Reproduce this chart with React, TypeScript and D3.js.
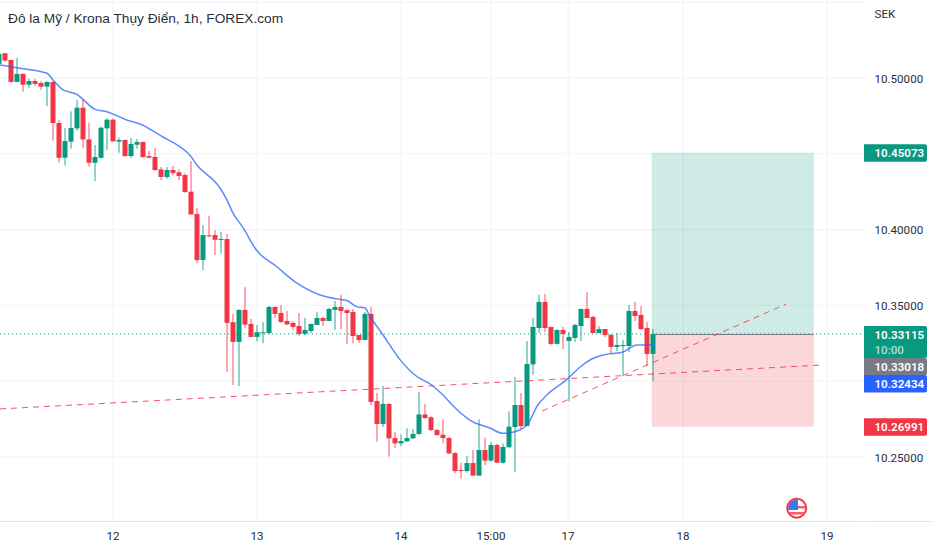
import * as d3 from 'd3';

const width = 932;
const height = 550;
const plotRight = 864;
const plotBottom = 521;

// nến theo thứ tự thời gian (khung 1h)
const opens = [
  10.5093, 10.5163, 10.5119, 10.4974, 10.5027, 10.4956, 10.498, 10.4967, 10.4943, 10.4974,
  10.4703, 10.4474, 10.458, 10.4668, 10.4804, 10.4595, 10.4441, 10.4474, 10.4668, 10.4725,
  10.458, 10.4591, 10.4485, 10.456, 10.4578, 10.4485, 10.4479, 10.4397, 10.4347, 10.4393,
  10.4378, 10.436, 10.425, 10.4103, 10.3799, 10.3962, 10.3964, 10.3933, 10.3938, 10.3389,
  10.3259, 10.347, 10.3378, 10.3292, 10.3318, 10.3318, 10.349, 10.345, 10.3397, 10.3384,
  10.3364, 10.3312, 10.3331, 10.3371, 10.3417, 10.3397, 10.347, 10.349, 10.347, 10.3457,
  10.3305, 10.3272, 10.3444, 10.2869, 10.2718, 10.285, 10.2625, 10.259, 10.2603, 10.2623,
  10.2652, 10.2781, 10.2762, 10.2678, 10.2647, 10.2625, 10.2526, 10.2414, 10.2407, 10.246,
  10.2377, 10.2546, 10.2476, 10.2579, 10.2462, 10.2564, 10.2698, 10.2843, 10.2704, 10.3111,
  10.3351, 10.3523, 10.3358, 10.3246, 10.3338, 10.3265, 10.3285, 10.3364, 10.3477, 10.3424,
  10.3318, 10.3344, 10.3305, 10.3226, 10.3232, 10.3232, 10.3463, 10.3437, 10.3351, 10.318,
];
const highs = [
  10.5163, 10.5165, 10.5121, 10.5132, 10.5031, 10.4994, 10.4994, 10.498, 10.4978, 10.4978,
  10.4725, 10.467, 10.478, 10.4855, 10.4862, 10.4705, 10.4558, 10.4679, 10.4734, 10.4732,
  10.4606, 10.4595, 10.4606, 10.4598, 10.458, 10.4518, 10.4538, 10.4413, 10.4413, 10.4419,
  10.4397, 10.4371, 10.4452, 10.4144, 10.403, 10.4092, 10.3997, 10.3984, 10.3971, 10.3444,
  10.3474, 10.362, 10.3411, 10.3371, 10.3391, 10.3496, 10.3492, 10.3503, 10.3463, 10.3397,
  10.345, 10.3417, 10.3378, 10.3457, 10.3424, 10.3483, 10.3529, 10.3571, 10.347, 10.3477,
  10.3305, 10.3457, 10.349, 10.2922, 10.2968, 10.2854, 10.2667, 10.2649, 10.2689, 10.2685,
  10.2929, 10.285, 10.2768, 10.2685, 10.2748, 10.2634, 10.2533, 10.2462, 10.2506, 10.2546,
  10.2748, 10.2627, 10.2599, 10.2588, 10.259, 10.2801, 10.3028, 10.2922, 10.3265, 10.3417,
  10.3571, 10.3576, 10.3358, 10.3342, 10.3358, 10.3325, 10.3378, 10.3477, 10.3589, 10.343,
  10.3364, 10.3344, 10.3312, 10.3318, 10.3272, 10.3503, 10.3523, 10.3496, 10.3391, 10.3345,
];
const lows = [
  10.5088, 10.5108, 10.4969, 10.4974, 10.491, 10.4936, 10.495, 10.4923, 10.4815, 10.4587,
  10.4441, 10.4422, 10.4534, 10.4653, 10.454, 10.4415, 10.432, 10.4468, 10.4525, 10.458,
  10.4507, 10.4481, 10.4474, 10.4534, 10.4474, 10.4472, 10.4389, 10.4327, 10.4334, 10.436,
  10.4327, 10.4243, 10.4098, 10.3779, 10.3731, 10.3951, 10.3832, 10.3843, 10.3062, 10.2975,
  10.2968, 10.3353, 10.329, 10.3263, 10.325, 10.3309, 10.3417, 10.3384, 10.3371, 10.3338,
  10.3298, 10.3305, 10.3318, 10.3371, 10.3364, 10.3397, 10.3338, 10.3342, 10.3246, 10.325,
  10.3252, 10.3272, 10.2843, 10.2601, 10.2698, 10.2502, 10.2557, 10.257, 10.2601, 10.2619,
  10.2645, 10.2751, 10.2671, 10.2638, 10.259, 10.252, 10.2394, 10.2357, 10.2396, 10.2377,
  10.2377, 10.2447, 10.2469, 10.246, 10.2456, 10.2564, 10.2403, 10.2685, 10.2704, 10.3043,
  10.3318, 10.3325, 10.3241, 10.3241, 10.3213, 10.2867, 10.3259, 10.3265, 10.3417, 10.3318,
  10.3318, 10.3292, 10.318, 10.3199, 10.3041, 10.3193, 10.3397, 10.3338, 10.31, 10.3001,
];
const closes = [
  10.5159, 10.5115, 10.4974, 10.5027, 10.4956, 10.498, 10.4961, 10.4943, 10.4974, 10.4703,
  10.4474, 10.4584, 10.467, 10.4804, 10.4595, 10.4441, 10.4479, 10.4672, 10.4725, 10.4582,
  10.4591, 10.4485, 10.4565, 10.4578, 10.4479, 10.4474, 10.4393, 10.4347, 10.4393, 10.4373,
  10.4353, 10.4248, 10.41, 10.3799, 10.3964, 10.3955, 10.3933, 10.3938, 10.3385, 10.3259,
  10.347, 10.3373, 10.3292, 10.3323, 10.3323, 10.349, 10.3444, 10.3391, 10.3375, 10.3358,
  10.3312, 10.3338, 10.3378, 10.3417, 10.3397, 10.3477, 10.349, 10.3463, 10.345, 10.3298,
  10.3272, 10.3444, 10.2863, 10.2718, 10.285, 10.2623, 10.259, 10.2605, 10.2625, 10.2652,
  10.2781, 10.2757, 10.2678, 10.2645, 10.2625, 10.2524, 10.2407, 10.241, 10.246, 10.2377,
  10.2546, 10.2476, 10.2579, 10.2462, 10.2566, 10.27, 10.2843, 10.2704, 10.3114, 10.3358,
  10.3523, 10.3351, 10.3246, 10.3338, 10.3312, 10.3292, 10.3371, 10.3477, 10.3417, 10.3318,
  10.3344, 10.3305, 10.3226, 10.3239, 10.3239, 10.3463, 10.343, 10.3344, 10.318, 10.3312,
];

// đường trung bình động
const maIndex = [
  0.2, 3.5, 8, 9, 10.7, 13, 14, 16, 18, 21.3, 23.5, 27.4, 30, 31.8, 33, 36.8, 38, 39, 40.7, 42.9,
  46.3, 49.6, 53.5, 56.3, 58, 59.6, 61, 61.8, 64, 66.8, 69.3, 72.1, 74, 75.7, 78.6, 81.8, 84, 86.8,
  88.2, 89.8, 91.3, 94.8, 96.8, 98.5, 100.7, 104, 106.3, 109,
];
const maValue = [
  10.5086, 10.5064, 10.5031, 10.4987, 10.4921, 10.4892, 10.4859, 10.4793, 10.4778, 10.4723, 10.4697,
  10.4609, 10.4551, 10.4492, 10.4426, 10.4276, 10.4195, 10.4109, 10.4011, 10.3865, 10.3755, 10.3648,
  10.3569, 10.3543, 10.3532, 10.3492, 10.3483, 10.343, 10.3305, 10.3144, 10.3041, 10.2975, 10.2909,
  10.2836, 10.274, 10.2691, 10.2656, 10.2678, 10.2722, 10.2843, 10.2909, 10.3017, 10.3092, 10.314,
  10.3173, 10.3193, 10.3239, 10.3239,
];

// hai đường xu hướng: [chỉ số nến, giá]
const trendA: [number, number][] = [[0.17, 10.2817], [137.2, 10.3107]];
const trendB: [number, number][] = [[90.5, 10.2803], [131.2, 10.3509]];

const priceTicks = [10.5, 10.45, 10.4, 10.35, 10.3, 10.25, 10.55];
const priceLabels = [10.5, 10.4, 10.35, 10.25];
const timeTicks = [19, 43, 67, 82, 94.85, 114, 138];
const timeLabels = ['12', '13', '14', '15:00', '17', '18', '19'];

const positionStart = 108.8;
const positionEnd = 135.8;
const entryPrice = 10.33115;
const targetPrice = 10.45073;
const stopPrice = 10.26991;
const lastClose = 10.33018;
const maLast = 10.32434;

const up = '#089981';
const down = '#f23645';
const gridColor = '#f0f3fa';
const textColor = '#2a2e39';
const font = 'Roboto, "Liberation Sans", Arial, sans-serif';
const axisSize = 11.6;

const x = d3.scaleLinear().domain([0, 110]).range([-1, 659]);
const y = d3.scaleLinear().domain([10.5, 10.25]).range([78, 457]);

const maLine = d3
  .line<number>()
  .x((_d, i) => x(maIndex[i]))
  .y((d) => y(d))
  .curve(d3.curveMonotoneX);

const trendLine = d3
  .line<[number, number]>()
  .x((d) => x(d[0]))
  .y((d) => y(d[1]));

const PriceTag = ({ top, h, fill, label }: { top: number; h: number; fill: string; label: string }) => (
  <g>
    <path d={`M${plotRight} ${top}h61a2 2 0 0 1 2 2v${h - 4}a2 2 0 0 1 -2 2h-61z`} fill={fill} />
    <text x={874.5} y={top + 13} fill="#fff" fontSize={axisSize} fontWeight={600} fontFamily={font}>
      {label}
    </text>
  </g>
);

export default function App() {
  const entryY = y(entryPrice);
  const boxLeft = x(positionStart);
  const boxWidth = x(positionEnd) - boxLeft;

  return (
    <svg
      width={width}
      height={height}
      style={{ position: 'absolute', left: 0, top: 0, background: '#fff' }}
    >
      <defs>
        <clipPath id="flag">
          <circle cx={796.7} cy={508.2} r={8.5} />
        </clipPath>
      </defs>

      {/* lưới */}
      {priceTicks.map((t) => (
        <line key={t} x1={0} x2={plotRight} y1={y(t)} y2={y(t)} stroke={gridColor} />
      ))}
      {timeTicks.map((t) => (
        <line key={t} x1={x(t)} x2={x(t)} y1={0} y2={plotBottom} stroke={gridColor} />
      ))}

      {/* vùng chốt lời / cắt lỗ */}
      <rect
        x={boxLeft}
        y={y(targetPrice)}
        width={boxWidth}
        height={entryY - y(targetPrice)}
        fill={up}
        fillOpacity={0.2}
      />
      <rect
        x={boxLeft}
        y={entryY}
        width={boxWidth}
        height={y(stopPrice) - entryY}
        fill={down}
        fillOpacity={0.2}
      />

      {/* đường giá hiện tại */}
      <line
        x1={0}
        x2={plotRight}
        y1={entryY}
        y2={entryY}
        stroke={up}
        strokeDasharray="1 3"
      />
      <line x1={boxLeft} x2={boxLeft + boxWidth} y1={entryY + 0.5} y2={entryY + 0.5} stroke="#787b86" />

      {/* nến */}
      {opens.map((o, i) => {
        const c = closes[i];
        const color = c >= o ? up : down;
        const top = y(Math.max(o, c));
        const bottom = y(Math.min(o, c));
        return (
          <g key={i}>
            <line
              x1={x(i)}
              x2={x(i)}
              y1={y(highs[i])}
              y2={y(lows[i])}
              stroke={color}
              strokeOpacity={0.85}
            />
            <rect
              x={x(i) - 2.5}
              y={top}
              width={5}
              height={Math.max(bottom - top, 1)}
              fill={color}
            />
          </g>
        );
      })}

      {/* MA */}
      <path d={maLine(maValue) ?? ''} fill="none" stroke="#2962ff" strokeOpacity={0.75} strokeWidth={1.5} />

      {/* đường xu hướng */}
      <path
        d={trendLine(trendA) ?? ''}
        fill="none"
        stroke={down}
        strokeOpacity={0.85}
        strokeDasharray="6 5"
      />
      <path
        d={trendLine(trendB) ?? ''}
        fill="none"
        stroke={down}
        strokeOpacity={0.85}
        strokeDasharray="6 5"
      />

      {/* biểu tượng sự kiện */}
      <g>
        <circle cx={796.7} cy={508.2} r={9.5} fill="#fff" stroke={down} strokeWidth={2} />
        <g clipPath="url(#flag)">
          <rect x={798} y={506} width={8} height={2.5} fill={down} fillOpacity={0.8} />
          <rect x={788} y={512} width={18} height={2.5} fill={down} fillOpacity={0.8} />
          <rect x={788} y={500} width={10} height={10} fill="#3d78e8" />
        </g>
      </g>

      {/* trục thời gian */}
      <line x1={0} x2={plotRight - 1} y1={521.5} y2={521.5} stroke="#e0e3eb" />
      <line x1={plotRight + 1} x2={width} y1={521.5} y2={521.5} stroke="#e0e3eb" />
      {timeTicks.map((t, i) => (
        <text
          key={t}
          x={x(t)}
          y={539.5}
          textAnchor="middle"
          fontSize={axisSize}
          fontFamily={font}
          fill={textColor}
        >
          {timeLabels[i]}
        </text>
      ))}

      {/* trục giá */}
      <text x={874.5} y={18} fontSize={axisSize} fontFamily={font} fill={textColor}>
        SEK
      </text>
      {priceLabels.map((p) => (
        <text
          key={p}
          x={874.5}
          y={y(p) + 4.5}
          fontSize={axisSize}
          fontFamily={font}
          fill={textColor}
        >
          {p.toFixed(5)}
        </text>
      ))}
      <PriceTag top={y(targetPrice) - 8.5} h={17.5} fill={up} label={targetPrice.toFixed(5)} />
      <PriceTag top={y(stopPrice) - 8.5} h={17.5} fill={down} label={stopPrice.toFixed(5)} />
      <PriceTag top={y(entryPrice) - 8} h={32} fill={up} label={entryPrice.toFixed(5)} />
      <text x={874.5} y={353.5} fill="#fff" fillOpacity={0.7} fontSize={axisSize} fontWeight={500} fontFamily={font}>
        10:00
      </text>
      <PriceTag top={358} h={17.5} fill="#787b86" label={lastClose.toFixed(5)} />
      <PriceTag top={375} h={17.5} fill="#2962ff" label={maLast.toFixed(5)} />

      {/* tiêu đề */}
      <text x={8} y={23} fontSize={13.7} fontFamily='"Liberation Sans", Arial, sans-serif' fill={textColor}>
        Đô la Mỹ / Krona Thụy Điển, 1h, FOREX.com
      </text>
    </svg>
  );
}
